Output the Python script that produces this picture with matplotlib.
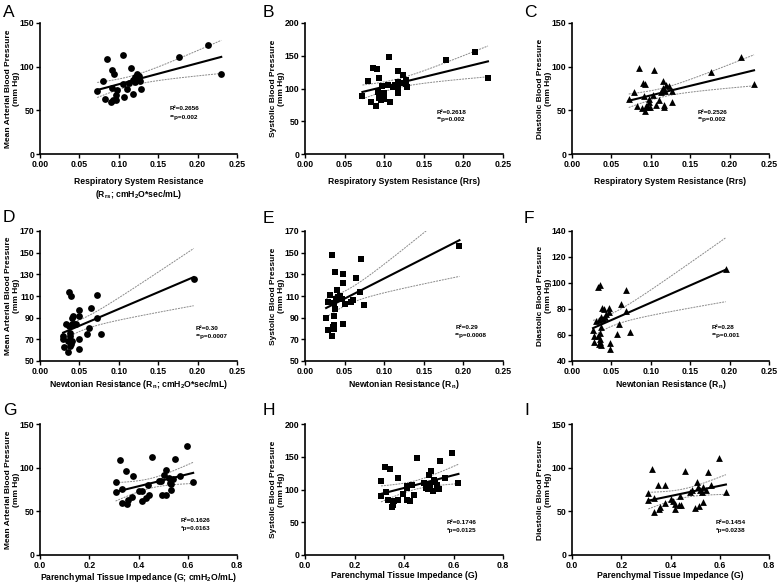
import numpy as np
import matplotlib
matplotlib.use("Agg")
import matplotlib.pyplot as plt

plt.rcParams['font.family'] = ['Liberation Sans', 'DejaVu Sans']
plt.rcParams['mathtext.fontset'] = 'custom'
plt.rcParams['mathtext.rm'] = 'Liberation Sans:bold'
plt.rcParams['mathtext.it'] = 'Liberation Sans:bold'
plt.rcParams['mathtext.bf'] = 'Liberation Sans:bold'
plt.rcParams['mathtext.default'] = 'rm'

# ---------------- data ----------------
rrs_a = [0.0726,0.080,0.0846,0.0825,0.091,0.094,0.092,0.090,0.093,0.097,0.097,0.098,0.1056,0.105,0.107,0.110,0.113,0.116,0.1175,0.1175,0.120,0.120,0.123,0.126,0.127,0.128,0.177,0.2137,0.230]
map_a = [72,84,109,63,96.5,92,76,59,61.5,62,67,73,113.5,80,65,75,81.5,98,69,84.6,87.7,82.7,92,89,83.5,75,110.8,125,92]

rrs_b = [0.0725,0.080,0.0835,0.0864,0.0915,0.0898,0.0936,0.0927,0.094,0.096,0.0978,0.100,0.100,0.106,0.105,0.1067,0.111,0.114,0.117,0.117,0.118,0.118,0.120,0.1235,0.1273,0.128,0.1286,0.178,0.2146,0.231]
sbp_b = [89,112,79,132,130,74,116,95,85,82,104,92.6,84,147.6,105,80,103,105,127,102,92.6,110,109,121,113,107,103,143.5,155,116]

rrs_c = [0.072,0.079,0.082,0.085,0.090,0.093,0.089,0.091,0.093,0.094,0.096,0.098,0.098,0.099,0.104,0.103,0.107,0.110,0.113,0.116,0.116,0.118,0.117,0.117,0.119,0.123,0.127,0.127,0.177,0.215,0.231]
dbp_c = [63,70.6,54.6,98,81,80,52.7,66,49.6,55,53.4,59,63,53.4,96.6,67.5,56,62,70.6,84,76,72.5,56,53.4,79,78,72.5,60,94,110.7,80]

rn_d = [0.0294,0.0294,0.0307,0.0328,0.036,0.036,0.037,0.039,0.037,0.038,0.0387,0.0387,0.039,0.040,0.041,0.042,0.041,0.043,0.046,0.049,0.050,0.050,0.050,0.060,0.062,0.065,0.0727,0.0723,0.077,0.195]
map_d = [73,70.6,63,84,68.5,58.6,113.7,110,82,73,76,64,66,68.5,90,92,84,84,84,97,92,70,60.8,75,80.8,98.6,111,90,75,126]

rn_e = [0.0267,0.0288,0.0288,0.031,0.034,0.034,0.035,0.036,0.037,0.037,0.0385,0.037,0.038,0.039,0.0406,0.0415,0.0436,0.047,0.048,0.0486,0.0486,0.050,0.058,0.0605,0.064,0.071,0.070,0.075,0.195]
sbp_e = [90,78.5,104.7,111,148,73,81.5,83,80,92,132.6,104,98,107,116,109,110,107,130,122,84,102.6,104.7,106.6,126.7,144,113.4,102,155.8]

rn_f = [0.0267,0.028,0.028,0.030,0.033,0.034,0.036,0.033,0.034,0.035,0.036,0.0366,0.036,0.0374,0.0374,0.038,0.039,0.040,0.042,0.043,0.0465,0.047,0.0485,0.0485,0.057,0.0596,0.062,0.069,0.069,0.073,0.195]
dbp_f = [63.5,59,55,71,96.6,71.6,98.7,59,52.7,57,61.4,74,54.5,52.5,66.5,80.6,72.4,80,73.7,76,81,78,54,49,60.7,68.6,84,94.8,78.8,62.2,111]

g_g = [0.325,0.348,0.377,0.455,0.548,0.595,0.308,0.307,0.331,0.334,0.353,0.359,0.375,0.400,0.414,0.414,0.432,0.444,0.438,0.482,0.490,0.496,0.512,0.505,0.510,0.523,0.527,0.534,0.533,0.542,0.567,0.622]
map_g = [108.7,96,91,112.5,110,125,83.7,71.6,75.4,60,58.3,62.5,66.7,73.5,73.5,62,64.8,68.6,80,84.5,84.5,69,68.6,91.7,97.3,88.6,83,81,74.6,87.5,91,84]

g_h = [0.323,0.345,0.307,0.375,0.452,0.547,0.592,0.307,0.329,0.334,0.352,0.356,0.360,0.375,0.397,0.411,0.414,0.411,0.425,0.434,0.441,0.480,0.489,0.496,0.503,0.510,0.506,0.521,0.517,0.526,0.532,0.540,0.565,0.620]
sbp_h = [133.8,130.8,112.8,117,148.7,144,156.4,90,96.4,84.6,73.3,77,82,84.6,93.8,102.6,105,83.6,82,106.7,92.3,110,103,101.5,122,128,106.7,114,97.4,110.8,106.7,100.5,117,110]

g_i = [0.324,0.349,0.378,0.457,0.553,0.596,0.310,0.310,0.332,0.334,0.355,0.357,0.379,0.403,0.412,0.417,0.417,0.434,0.444,0.437,0.481,0.488,0.499,0.516,0.534,0.509,0.513,0.520,0.527,0.531,0.545,0.564,0.625]
dbp_i = [98.5,80.5,80,96.6,94.7,111,71,63.4,65.3,48.9,52.7,55,59.5,64,62.2,52.7,58.4,57,57,67,72.5,74.8,53.4,55.7,60.3,83.2,78.2,74.8,71.8,78.2,74.8,80,71.8]

panel_letters = ['A', 'B', 'C', 'D', 'E', 'F', 'G', 'H', 'I']
y_labels = ['Mean Arterial Blood Pressure\n(mm Hg)',
            'Systolic Blood Pressure\n(mm Hg)',
            'Diastolic Blood Pressure\n(mm Hg)']
x_labels = ['Respiratory System Resistance\n(R$_{rs}$; cmH$_{2}$O*sec/mL)',
            'Respiratory System Resistance (Rrs)',
            'Respiratory System Resistance (Rrs)',
            'Newtonian Resistance (R$_{n}$; cmH$_{2}$O*sec/mL)',
            'Newtonian Resistance (R$_{n}$)',
            'Newtonian Resistance (R$_{n}$)',
            'Parenchymal Tissue Impedance (G; cmH$_{2}$O/mL)',
            'Parenchymal Tissue Impedance (G)',
            'Parenchymal Tissue Impedance (G)']
r2_text = ['R\u00b2=0.2656', 'R\u00b2=0.2618', 'R\u00b2=0.2526',
           'R\u00b2=0.30', 'R\u00b2=0.29', 'R\u00b2=0.28',
           'R\u00b2=0.1626', 'R\u00b2=0.1746', 'R\u00b2=0.1454']
p_text = ['**p=0.002', '**p=0.002', '**p=0.002',
          '**p=0.0007', '**p=0.0008', '**p=0.001',
          '*p=0.0163', '*p=0.0125', '*p=0.0238']

xs = [rrs_a, rrs_b, rrs_c, rn_d, rn_e, rn_f, g_g, g_h, g_i]
ys = [map_a, sbp_b, dbp_c, map_d, sbp_e, dbp_f, map_g, sbp_h, dbp_i]

x_ticks_row = [np.arange(0, 0.26, 0.05), np.arange(0, 0.26, 0.05), np.arange(0, 0.81, 0.2)]
x_fmt_row = ['{:.2f}', '{:.2f}', '{:.1f}']
y_ticks = [[0, 50, 100, 150], [0, 50, 100, 150, 200], [0, 50, 100, 150],
           [50, 70, 90, 110, 130, 150, 170], [50, 70, 90, 110, 130, 150, 170],
           [40, 60, 80, 100, 120, 140],
           [0, 50, 100, 150], [0, 50, 100, 150, 200], [0, 50, 100, 150]]
markers = ['o', 's', '^']

# ---------------- layout ----------------
W, H = 781, 584
cols = [(40, 237), (305, 503), (572, 769)]
rows = [(23, 154), (231, 361), (424, 555)]
text_pos = [(0.66, 0.35, 0.28), (0.665, 0.32, 0.26), (0.64, 0.32, 0.26),
            (0.79, 0.25, 0.19), (0.76, 0.26, 0.20), (0.71, 0.26, 0.20),
            (0.716, 0.26, 0.20), (0.716, 0.25, 0.19), (0.73, 0.25, 0.19)]
letter_pos = [(3, 17), (263, 17), (524, 17),
              (3, 222), (263, 223), (524, 223),
              (3, 415), (263, 415), (524, 415)]
xlabel_pad = [6, 2, 1]

fig = plt.figure(figsize=(W / 100, H / 100), dpi=100)

for i in range(9):
    r, c = divmod(i, 3)
    l, rt = cols[c]
    t, b = rows[r]
    ax = fig.add_axes([l / W, 1 - b / H, (rt - l) / W, (b - t) / H])
    x = np.asarray(xs[i], float)
    y = np.asarray(ys[i], float)

    # linear fit with 95% confidence band
    n = len(x)
    slope, icpt = np.polyfit(x, y, 1)
    xx = np.linspace(x.min(), x.max(), 100)
    yy = slope * xx + icpt
    resid = y - (slope * x + icpt)
    s = np.sqrt(np.sum(resid ** 2) / (n - 2))
    sxx = np.sum((x - x.mean()) ** 2)
    tval = 2.04
    band = tval * s * np.sqrt(1.0 / n + (xx - x.mean()) ** 2 / sxx)

    ax.plot(xx, yy + band, color='#8a8a8a', lw=0.7, ls=(0, (2, 1)), zorder=2)
    ax.plot(xx, yy - band, color='#8a8a8a', lw=0.7, ls=(0, (2, 1)), zorder=2)
    ax.plot(xx, yy, color='black', lw=1.5, zorder=3)
    ax.scatter(x, y, marker=markers[c], s=24, color='black', linewidths=0, zorder=4)

    xt = x_ticks_row[r]
    ax.set_xlim(xt[0], xt[-1])
    ax.set_ylim(y_ticks[i][0], y_ticks[i][-1])
    ax.set_xticks(xt)
    ax.set_xticklabels([x_fmt_row[r].format(v) for v in xt])
    ax.set_yticks(y_ticks[i])
    ax.set_yticklabels([str(v) for v in y_ticks[i]])

    for sp in ['top', 'right']:
        ax.spines[sp].set_visible(False)
    for sp in ['left', 'bottom']:
        ax.spines[sp].set_linewidth(1.2)
    ax.tick_params(direction='out', length=3, width=1.0, labelsize=6.3, pad=1)
    for lab in ax.get_xticklabels() + ax.get_yticklabels():
        lab.set_fontweight('bold')

    ax.set_ylabel(y_labels[c], fontsize=6.0, fontweight='bold', labelpad=0, linespacing=1.15)
    ax.set_xlabel(x_labels[i], fontsize=6.2, fontweight='bold',
                  labelpad=xlabel_pad[r], linespacing=1.2)

    tx, ty1, ty2 = text_pos[i]
    ax.text(tx, ty1, r2_text[i], transform=ax.transAxes, fontsize=4.6,
            fontweight='bold', ha='left', va='center')
    ax.text(tx, ty2, p_text[i], transform=ax.transAxes, fontsize=4.6,
            fontweight='bold', ha='left', va='center')

    lx, ly = letter_pos[i]
    fig.text(lx / W, 1 - ly / H, panel_letters[i], fontsize=12.5, ha='left', va='baseline')

fig.savefig('out.png', dpi=100)
